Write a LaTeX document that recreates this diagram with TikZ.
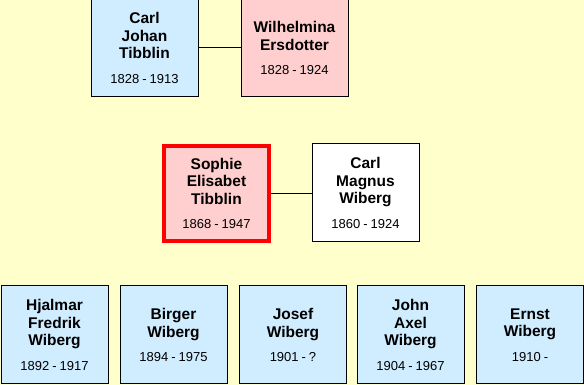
\documentclass[tikz,border=0pt]{standalone}
\usepackage{fontspec}
\setmainfont{Liberation Sans}
\definecolor{bgyellow}{HTML}{FFFFCC}
\definecolor{boxblue}{HTML}{CFEDFF}
\definecolor{boxpink}{HTML}{FFCFCF}
\newcommand{\namefont}{\fontsize{15.5}{17.5}\selectfont\bfseries}
\newcommand{\datefont}{\fontsize{13}{15}\selectfont\mdseries}
\newcommand{\ds}{\hspace{3pt}}
\tikzset{
  person/.style={draw=black, line width=1pt, minimum width=107pt, minimum height=98pt,
    text width=100pt, align=center, inner sep=0pt, font=\namefont},
  blueperson/.style={person, fill=boxblue},
  pinkperson/.style={person, fill=boxpink},
  whiteperson/.style={person, fill=white},
  focusperson/.style={person, fill=boxpink, draw=red, line width=3.5pt,
    minimum width=105pt, minimum height=95pt},
  link/.style={draw=black, line width=1pt}
}
\begin{document}
\begin{tikzpicture}[x=1pt,y=1pt]
\useasboundingbox (0,0) rectangle (584,385);
\fill[bgyellow] (0,0) rectangle (584,385);
\begin{scope}
\clip (0,0) rectangle (584,385);
% top row
\node[blueperson] (cj) at (144.5,337) {Carl\\Johan\\Tibblin\\[7pt]{\datefont 1828\ds-\ds1913}};
\node[pinkperson] (wi) at (294.5,337) {Wilhelmina\\Ersdotter\\[7pt]{\datefont 1828\ds-\ds1924}};
\draw[link] (cj.east) -- (wi.west);
% middle row
\node[focusperson] (so) at (216.5,191.5) {Sophie\\Elisabet\\Tibblin\\[7pt]{\datefont 1868\ds-\ds1947}};
\node[whiteperson] (cm) at (365.5,192) {Carl\\Magnus\\Wiberg\\[7pt]{\datefont 1860\ds-\ds1924}};
\draw[link] (so.east) -- (so.east -| cm.west);
% bottom row
\node[blueperson] (hj) at (54.5,50) {Hjalmar\\Fredrik\\Wiberg\\[7pt]{\datefont 1892\ds-\ds1917}};
\node[blueperson] (bi) at (173.5,50) {Birger\\Wiberg\\[7pt]{\datefont 1894\ds-\ds1975}};
\node[blueperson] (jo) at (293,50) {Josef\\Wiberg\\[7pt]{\datefont 1901\ds-\ds?}};
\node[blueperson] (ja) at (410.5,50) {John\\Axel\\Wiberg\\[7pt]{\datefont 1904\ds-\ds1967}};
\node[blueperson] (er) at (530,50) {Ernst\\Wiberg\\[7pt]{\datefont 1910\ds-}};
\end{scope}
\end{tikzpicture}
\end{document}
